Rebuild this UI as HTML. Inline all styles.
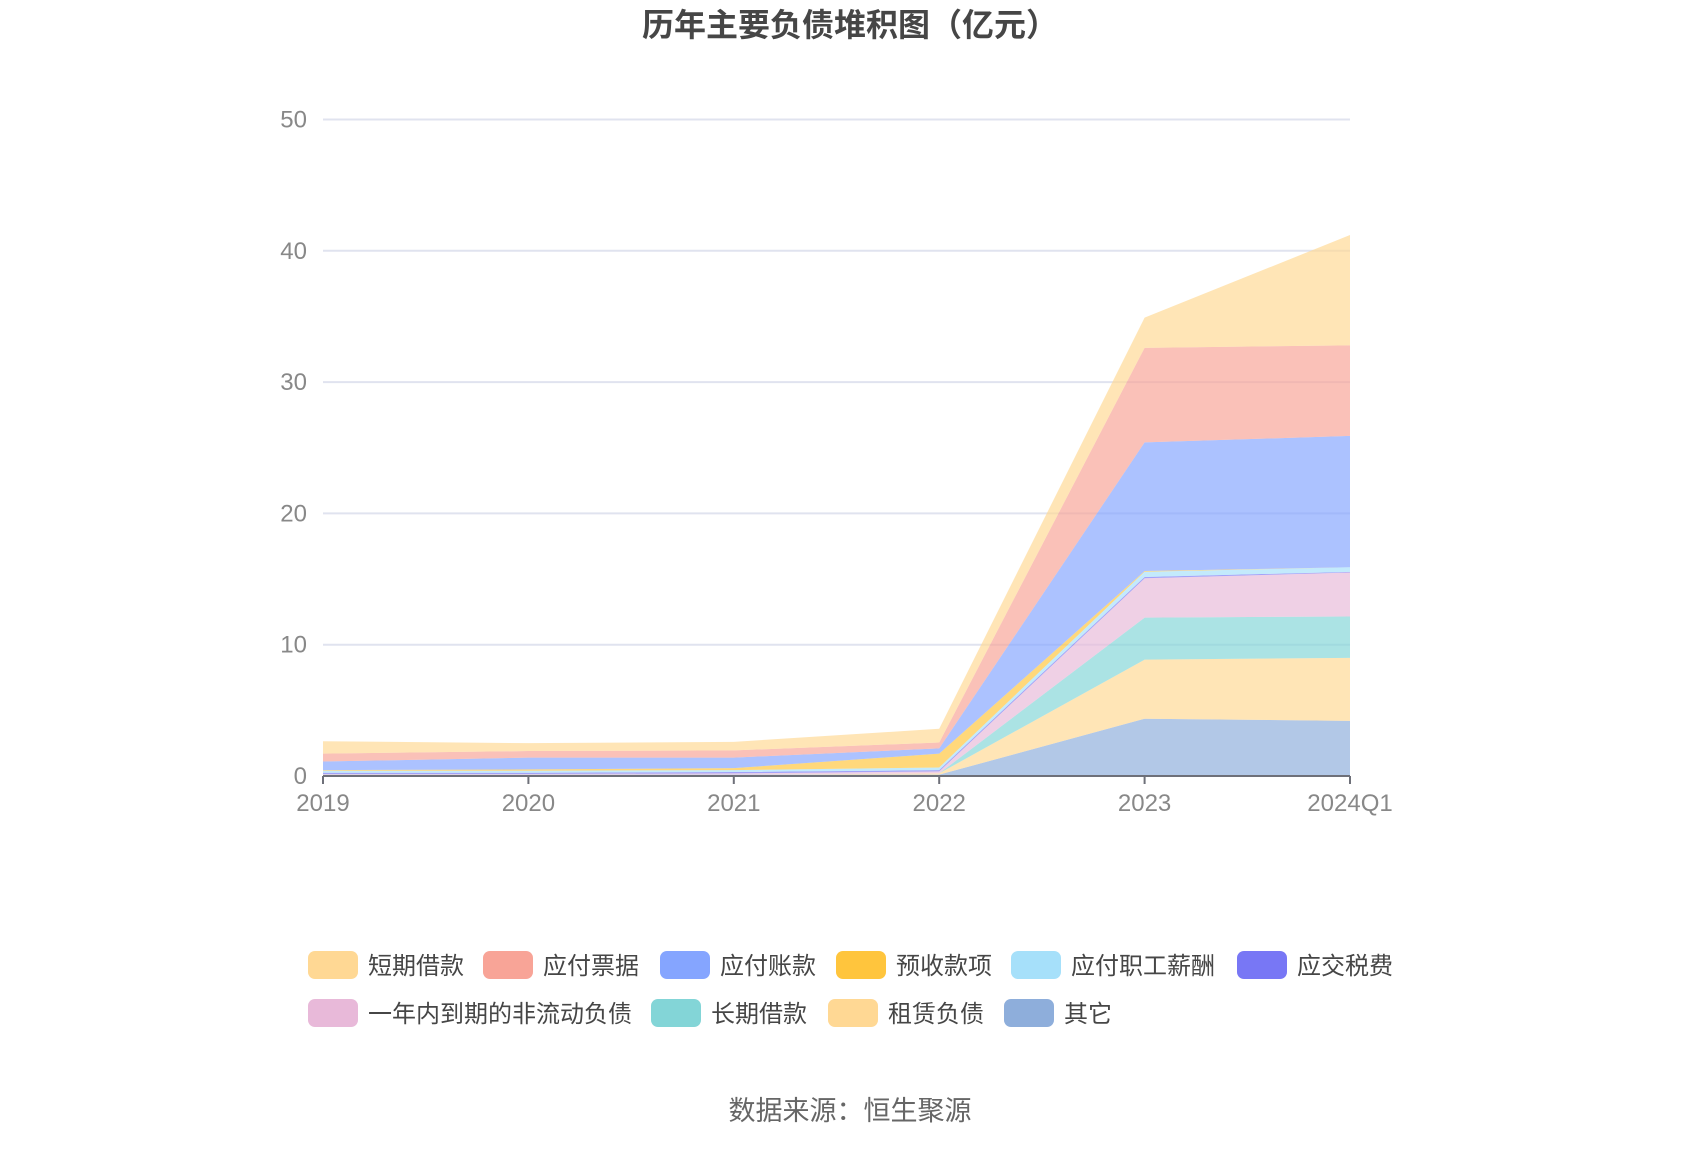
<!DOCTYPE html>
<html><head><meta charset="utf-8">
<style>
html,body{margin:0;padding:0;background:#fff;}
body{width:1700px;height:1150px;overflow:hidden;font-family:"Liberation Sans","Noto Sans CJK SC",sans-serif;}
</style></head>
<body>
<svg id="chart" width="1700" height="1150" xmlns="http://www.w3.org/2000/svg" style="font-family:'Liberation Sans','Noto Sans CJK SC',sans-serif">
<text x="850" y="36" text-anchor="middle" font-size="32" font-weight="bold" fill="#464646">历年主要负债堆积图（亿元）</text>
<g id="grid"></g><g id="areas"></g><g id="axes"></g><g id="legend"></g>
<text x="850" y="1120" text-anchor="middle" font-size="27" fill="#666">数据来源：恒生聚源</text>
</svg>
<script>
const categories = ["2019","2020","2021","2022","2023","2024Q1"];
const yTicks = [0,10,20,30,40,50];
const seriesNames = ["其它","租赁负债","长期借款","一年内到期的非流动负债","应交税费","应付职工薪酬","预收款项","应付账款","应付票据","短期借款"];
const sOther   = [0.1,0.1,0.1,0.1,4.36,4.2];
const sLease   = [0,0,0,0.1,4.5,4.8];
const sLongLoan= [0,0,0,0,3.2,3.15];
const sCurrent = [0.05,0.05,0.1,0.15,3.0,3.35];
const sTax     = [0.1,0.1,0.1,0.1,0.1,0.05];
const sSalary  = [0.15,0.15,0.15,0.2,0.4,0.35];
const sAdvance = [0.05,0.1,0.15,1.05,0.05,0];
const sPayable = [0.65,0.9,0.8,0.4,9.8,10.0];
const sNotes   = [0.6,0.5,0.55,0.45,7.2,6.9];
const sShort   = [0.95,0.6,0.65,1.05,2.3,8.4];
const seriesData=[sOther,sLease,sLongLoan,sCurrent,sTax,sSalary,sAdvance,sPayable,sNotes,sShort];
const colors=["#8eaedb","#ffd894","#83d5d7","#e8b9d9","#7877f5","#a6e0fa","#ffc53d","#85a5ff","#f8a497","#ffd894"];
const X0=323,X1=1350,Y0=776,Y1=119.5,YMAX=50;
const xs=i=>X0+(X1-X0)*i/(categories.length-1);
const ys=v=>Y0-(Y0-Y1)*v/YMAX;
const NS="http://www.w3.org/2000/svg";
function mk(t,a,p){const e=document.createElementNS(NS,t);for(const k in a)e.setAttribute(k,a[k]);p.appendChild(e);return e;}
const grid=document.getElementById('grid'),axes=document.getElementById('axes'),areas=document.getElementById('areas'),leg=document.getElementById('legend');
yTicks.forEach(t=>{
  if(t>0){const l=mk('line',{x1:X0,x2:X1,y1:ys(t),y2:ys(t),stroke:'#e0e3ef','stroke-width':2},grid);
  
  }
  const tx=mk('text',{x:307,y:ys(t)+8,'text-anchor':'end','font-size':24,fill:'#888'},axes);
  tx.textContent=t;
  
  
});
let cum=categories.map(()=>0);
seriesData.forEach((s,k)=>{
  const lower=cum.slice();const upper=cum.map((c,i)=>c+s[i]);
  let d='';upper.forEach((v,i)=>{d+=(i?'L':'M')+xs(i)+','+ys(v);});
  for(let i=lower.length-1;i>=0;i--)d+='L'+xs(i)+','+ys(lower[i]);
  const p=mk('path',{d:d+'Z',fill:colors[k],'fill-opacity':0.68},areas);
  
  
  cum=upper;
});
const ax=mk('line',{x1:X0,x2:X1,y1:Y0,y2:Y0,stroke:'#6e7079','stroke-width':2},axes);


categories.forEach((c,i)=>{
  const tk=mk('line',{x1:xs(i),x2:xs(i),y1:Y0,y2:Y0+8,stroke:'#6e7079','stroke-width':2},axes);
  
  
  const tx=mk('text',{x:xs(i),y:Y0+35,'text-anchor':'middle','font-size':24,fill:'#888'},axes);
  tx.textContent=c;
  
  
});
const legendNames=["短期借款","应付票据","应付账款","预收款项","应付职工薪酬","应交税费","一年内到期的非流动负债","长期借款","租赁负债","其它"];
const legendColors=["#ffd894","#f8a497","#85a5ff","#ffc53d","#a6e0fa","#7877f5","#e8b9d9","#83d5d7","#ffd894","#8eaedb"];
const legX=[308,483,660,836,1011,1237,308,651,828,1004];
const legY=[951,951,951,951,951,951,999,999,999,999];
legendNames.forEach((n,i)=>{
  const g=mk('g',{},leg);
  
  
  mk('rect',{x:legX[i],y:legY[i],width:50,height:28,rx:7,fill:legendColors[i]},g);
  const t=mk('text',{x:legX[i]+60,y:legY[i]+23,'font-size':24,fill:'#464646'},g);
  t.textContent=n;
});
</script>
</body></html>
